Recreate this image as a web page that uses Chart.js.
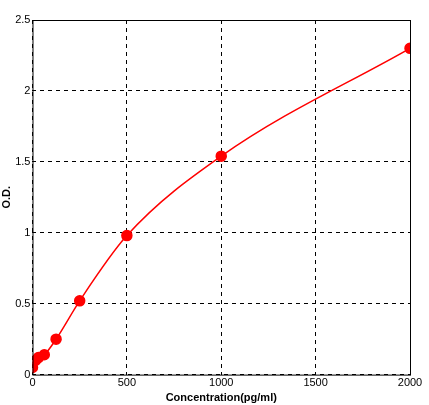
<!DOCTYPE html>
<html><head><script src="https://cdn.jsdelivr.net/npm/chart.js"></script>
<style>html,body{margin:0;background:#fff}#w{width:429px;height:405px}</style></head>
<body><div id="w"><canvas id="c"></canvas></div>
<script>
const concentrations=[0,15.6,31.25,62.5,125,250,500,1000,2000];
const odValues=[0.05,0.1,0.12,0.14,0.25,0.52,0.98,1.54,2.3];
const xTicks=[0,500,1000,1500,2000];
const yTicks=[0,0.5,1,1.5,2,2.5];
const pts=concentrations.map((x,i)=>({x,y:odValues[i]}));
const border={id:'bd',afterDraw(c){const a=c.chartArea,g=c.ctx;g.save();g.strokeStyle='#000';g.lineWidth=1;g.strokeRect(a.left+0.5,a.top+0.5,a.right-a.left,a.bottom-a.top);g.restore();}};
new Chart(document.getElementById('c'),{type:'scatter',
data:{datasets:[{data:pts,showLine:true,cubicInterpolationMode:'monotone',borderColor:'#ff0000',borderWidth:1.5,backgroundColor:'#ff0000',pointRadius:5,pointHoverRadius:5}]},
options:{responsive:true,maintainAspectRatio:false,animation:false,
layout:{padding:{left:0,right:19,top:20,bottom:0}},
plugins:{legend:{display:false},tooltip:{enabled:false}},
scales:{
x:{type:'linear',min:0,max:2000,afterBuildTicks:s=>{s.ticks=xTicks.map(v=>({value:v}));},
 grid:{color:'#000',drawTicks:false,borderDash:[4,4],tickBorderDash:[4,4]},border:{display:false,dash:[4,4]},
 ticks:{color:'#000',font:{family:'Arial, Liberation Sans',size:11},padding:2,callback:v=>String(v)},
 title:{display:true,text:'Concentration(pg/ml)',color:'#000',font:{family:'Arial, Liberation Sans',size:11,weight:'bold'},padding:{top:0,bottom:0}}},
y:{min:0,max:2.5,afterBuildTicks:s=>{s.ticks=yTicks.map(v=>({value:v}));},
 grid:{color:'#000',drawTicks:false},border:{display:false,dash:[4,4]},
 ticks:{color:'#000',font:{family:'Arial, Liberation Sans',size:11},padding:2,callback:v=>String(v)},
 title:{display:true,text:'O.D.',color:'#000',font:{family:'Arial, Liberation Sans',size:11,weight:'bold'},padding:{top:0,bottom:0}}}
}},plugins:[border]});
</script></body></html>
